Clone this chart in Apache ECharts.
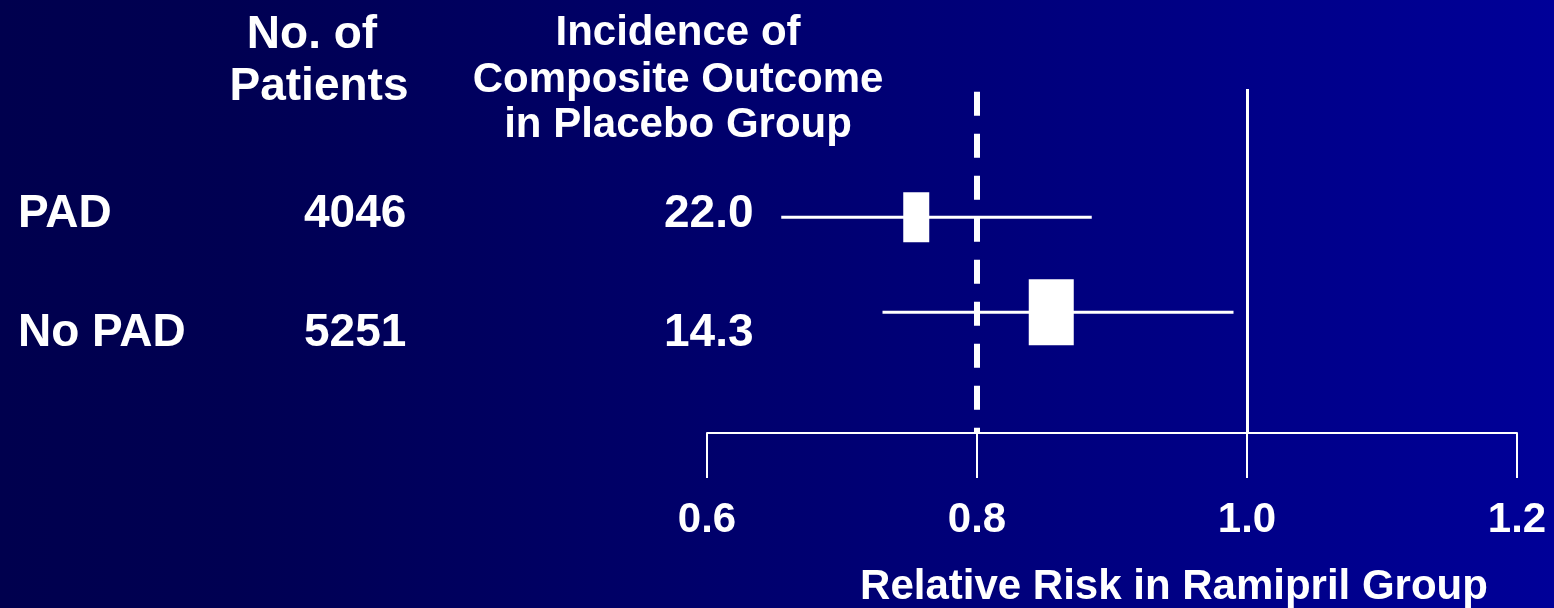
<!DOCTYPE html>
<html><head><meta charset="utf-8">
<script src="https://cdn.jsdelivr.net/npm/echarts@6/dist/echarts.min.js"></script>
<style>html,body{margin:0;padding:0;width:1554px;height:608px;overflow:hidden;background:#000050}
#c{width:1554px;height:608px}</style></head>
<body><div id="c"></div>
<script>
// ---- data ----
const groups = ['PAD', 'No PAD'];
const patients = ['4046', '5251'];
const incidence = ['22.0', '14.3'];
const rrLower = [0.655, 0.73];
const rrEstimate = [0.755, 0.855];
const rrUpper = [0.885, 0.99];
const xTicks = [0.6, 0.8, 1.0, 1.2];
const refDashed = 0.8;
const refSolid = 1.0;
const headerPatients = ['No. of', 'Patients'];
const headerIncidence = ['Incidence of', 'Composite Outcome', 'in Placebo Group'];
const axisTitle = 'Relative Risk in Ramipril Group';

// ---- styles / layout ----
const FONT = '"Liberation Sans", Arial, Helvetica, sans-serif';
const WHITE = '#ffffff';
const BOX_W = [26, 45];
const BOX_H = [50, 66];

const chart = echarts.init(document.getElementById('c'), null, {renderer: 'canvas'});

function txt(text, x, y, size, align) {
  return {
    type: 'text', x: x, y: y, silent: true,
    style: {
      text: text, fill: WHITE,
      font: 'bold ' + size + 'px ' + FONT,
      align: align, textAlign: align,
      verticalAlign: 'middle', textVerticalAlign: 'middle'
    }
  };
}

const graphics = [];
// column headers
graphics.push(txt(headerPatients[0], 312, 35, 46, 'center'));
graphics.push(txt(headerPatients[1], 319, 87, 46, 'center'));
const incY = [33, 80, 125];
headerIncidence.forEach((t, i) => graphics.push(txt(t, 678, incY[i], 42, 'center')));
// row texts
const rowTextY = [214, 333];
groups.forEach((g, i) => {
  graphics.push(txt(g, 18, rowTextY[i], 46, 'left'));
  graphics.push(txt(patients[i], 304, rowTextY[i], 46, 'left'));
  graphics.push(txt(incidence[i], 664, rowTextY[i], 46, 'left'));
});
// axis title
graphics.push(txt(axisTitle, 1174, 587, 42, 'center'));

const option = {
  animation: false,
  backgroundColor: {
    type: 'linear', x: 0, y: 0, x2: 1, y2: 0,
    colorStops: [
      {offset: 0, color: '#00004E'},
      {offset: 0.15, color: '#000052'},
      {offset: 1, color: '#000098'}
    ]
  },
  grid: {left: 707, right: 37, top: 89, bottom: 175, containLabel: false},
  xAxis: {
    type: 'value',
    min: xTicks[0], max: xTicks[xTicks.length - 1], interval: 0.2,
    axisLine: {show: true, onZero: false, lineStyle: {color: WHITE, width: 2}},
    axisTick: {show: true, length: 45, lineStyle: {color: WHITE, width: 2}},
    splitLine: {show: false},
    axisLabel: {
      show: true, margin: 66, color: WHITE,
      fontSize: 42, fontWeight: 'bold', fontFamily: FONT,
      showMinLabel: true, showMaxLabel: true,
      formatter: v => v.toFixed(1)
    }
  },
  yAxis: {
    type: 'value', inverse: true, min: -1.35, max: 2.27, show: false
  },
  graphic: graphics,
  series: [{
    type: 'custom',
    silent: true,
    encode: {x: [1, 2, 3], y: 0},
    data: groups.map((g, i) => [i, rrLower[i], rrEstimate[i], rrUpper[i]]),
    renderItem: function (params, api) {
      const i = params.dataIndex;
      const row = api.value(0);
      const lo = api.coord([api.value(1), row]);
      const c = api.coord([api.value(2), row]);
      const hi = api.coord([api.value(3), row]);
      const w = BOX_W[i], h = BOX_H[i];
      return {
        type: 'group',
        children: [
          {type: 'line', shape: {x1: lo[0], y1: lo[1], x2: hi[0], y2: hi[1]},
           style: {stroke: WHITE, lineWidth: 3}},
          {type: 'rect', shape: {x: c[0] - w / 2, y: c[1] - h / 2, width: w, height: h},
           style: {fill: WHITE}}
        ]
      };
    },
    markLine: {
      silent: true, symbol: 'none', animation: false,
      label: {show: false},
      emphasis: {disabled: true},
      data: [
        [{coord: [refDashed, -1.32], lineStyle: {color: WHITE, width: 6, type: [24, 18], cap: 'butt'}},
         {coord: [refDashed, 2.27]}],
        {xAxis: refSolid, lineStyle: {color: WHITE, width: 3, type: 'solid'}}
      ]
    }
  }]
};
chart.setOption(option);
</script>
</body></html>
